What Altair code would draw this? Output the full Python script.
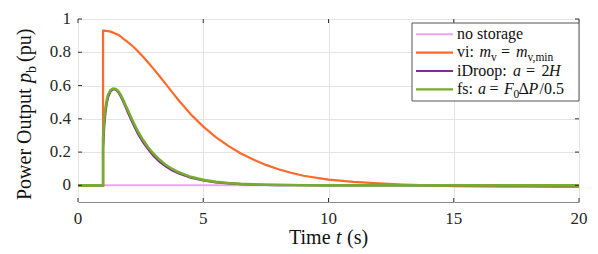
import altair as alt
import pandas as pd

# ---------------- data ----------------
time = [0, 1, 1, 1.05, 1.1, 1.15, 1.2, 1.3, 1.4, 1.5, 1.6, 1.7, 1.8, 1.9, 2.0,
        2.2, 2.4, 2.6, 2.8, 3.0, 3.25, 3.5, 3.75, 4.0, 4.5, 5.0, 5.5, 6.0, 6.5,
        7.0, 7.5, 8.0, 8.5, 9.0, 10, 11, 12, 13, 14, 15, 16, 17, 18, 19, 20]

no_storage = [0.0] * len(time)

vi = [0, 0, 0.930, 0.930, 0.929, 0.928, 0.927, 0.924, 0.918, 0.912, 0.905, 0.896,
      0.882, 0.871, 0.860, 0.835, 0.805, 0.773, 0.739, 0.703, 0.657, 0.610, 0.562,
      0.515, 0.428, 0.353, 0.290, 0.237, 0.192, 0.155, 0.123, 0.097, 0.076, 0.058,
      0.035, 0.021, 0.012, 0.005, 0.000, -0.004, -0.006, -0.008, -0.008, -0.009, -0.009]

idroop = [0, 0, 0.22, 0.36, 0.44, 0.495, 0.530, 0.565, 0.578, 0.576, 0.561, 0.536,
          0.505, 0.470, 0.435, 0.368, 0.308, 0.258, 0.216, 0.180, 0.143, 0.114, 0.091,
          0.073, 0.046, 0.029, 0.018, 0.012, 0.008, 0.005, 0.003, 0.002, 0.001, 0.001,
          0.0, 0.0, 0.0, 0.0, 0.0, 0.0, 0.0, 0.0, 0.0, 0.0, 0.0]

fs = [0, 0, 0.28, 0.40, 0.47, 0.515, 0.545, 0.572, 0.582, 0.580, 0.568, 0.545,
      0.515, 0.482, 0.448, 0.382, 0.322, 0.272, 0.229, 0.193, 0.155, 0.124, 0.100,
      0.080, 0.051, 0.033, 0.021, 0.014, 0.009, 0.006, 0.004, 0.003, 0.002, 0.001,
      0.0, 0.0, 0.0, 0.0, 0.0, 0.0, 0.0, 0.0, 0.0, 0.0, 0.0]

series_names = ["no storage", "vi", "iDroop", "fs"]
series_values = [no_storage, vi, idroop, fs]
series_colors = ["#F0A3F0", "#FF6A2B", "#7E2F8E", "#77AC30"]
series_widths = [2, 2.2, 2.2, 2.6]

x_ticks = [0, 5, 10, 15, 20]
x_tick_labels = ["0", "5", "10", "15", "20"]
y_ticks = [0, 0.2, 0.4, 0.6, 0.8, 1]
y_tick_labels = ["0", "0.2", "0.4", "0.6", "0.8", "1"]

# legend label pieces: (row, text, x offset, italic, subscript)
legend_pieces = [
    (0, "no storage", 0, False, False),
    (1, "vi:", 0, False, False), (1, "m", 22.5, True, False), (1, "v", 34, False, True),
    (1, "=", 44, False, False), (1, "m", 59, True, False), (1, "v,min", 70.5, False, True),
    (2, "iDroop:", 0, False, False), (2, "a", 56, True, False), (2, "=", 69, False, False),
    (2, "2", 84.5, False, False), (2, "H", 92, True, False),
    (3, "fs:", 0, False, False), (3, "a", 21, True, False), (3, "=", 32.5, False, False),
    (3, "F", 47, True, False), (3, "0", 56.5, False, True), (3, "Δ", 61.5, False, False),
    (3, "P", 71.5, True, False), (3, "/0.5", 82.5, False, False),
]

W, H = 501, 183
FONT = "Liberation Serif"
TXT = "#111111"

rows = []
for name, vals in zip(series_names, series_values):
    for i, (t, v) in enumerate(zip(time, vals)):
        rows.append({"series": name, "t": t, "p": v, "i": i})
df = pd.DataFrame(rows)

color_scale = alt.Scale(domain=series_names, range=series_colors)
x_axis = alt.Axis(values=x_ticks, title=None, grid=True, ticks=False, domain=False,
                  labels=False, gridColor="#e4e4e4")
y_axis = alt.Axis(values=y_ticks, title=None, grid=True, ticks=False, domain=False,
                  labels=False, gridColor="#e4e4e4")
x_scale = alt.Scale(domain=[0, 20], nice=False)
y_scale = alt.Scale(domain=[-0.1, 1], nice=False, zero=False)


def X(f):
    return alt.X(f, scale=x_scale, axis=x_axis)


def Y(f):
    return alt.Y(f, scale=y_scale, axis=y_axis)


layers = []
for name, w in zip(series_names, series_widths):
    layers.append(
        alt.Chart(df).transform_filter(alt.datum.series == name)
        .mark_line(strokeWidth=w, clip=True)
        .encode(x=X("t:Q"), y=Y("p:Q"), order="i:Q",
                color=alt.Color("series:N", scale=color_scale, legend=None))
    )

# inward tick marks (box on) and tick labels
xt = pd.DataFrame({"t": x_ticks, "lab": x_tick_labels})
yt = pd.DataFrame({"p": y_ticks, "lab": y_tick_labels})
tick_color = "#333333"
ticks = [
    alt.Chart(xt).mark_rule(color=tick_color).encode(x=X("t:Q"), y=alt.value(H), y2=alt.value(H - 4)),
    alt.Chart(xt).mark_rule(color=tick_color).encode(x=X("t:Q"), y=alt.value(0), y2=alt.value(4)),
    alt.Chart(yt).mark_rule(color=tick_color).encode(y=Y("p:Q"), x=alt.value(0), x2=alt.value(4)),
    alt.Chart(yt).mark_rule(color=tick_color).encode(y=Y("p:Q"), x=alt.value(W - 4), x2=alt.value(W)),
    alt.Chart(xt).mark_text(font=FONT, fontSize=17, color="#262626", align="center",
                            baseline="alphabetic").encode(
        x=X("t:Q"), y=alt.value(H + 22), text="lab:N"),
    alt.Chart(yt).mark_text(font=FONT, fontSize=17, color="#262626", align="right",
                            baseline="middle").encode(
        y=Y("p:Q"), x=alt.value(-7), text="lab:N"),
]

one = pd.DataFrame({"a": [0]})


def txt(s, x, y, size=20, italic=False, angle=0, align="left"):
    kw = dict(text=s, font=FONT, fontSize=size, color=TXT, align=align,
              baseline="alphabetic")
    if italic:
        kw["fontStyle"] = "italic"
    if angle:
        kw["angle"] = angle
    return alt.Chart(one).mark_text(**kw).encode(x=alt.value(x), y=alt.value(y))


titles = [
    txt("Time", 211, 225),
    txt("t", 258, 225, italic=True),
    txt("(s)", 269, 225),
    txt("Power Output", -47, 181, angle=270),
    txt("p", -47, 64, italic=True, angle=270),
    txt("b", -42, 54, size=14, angle=270),
    txt("(pu)", -47, 43, angle=270),
]

# ---------------- manual legend ----------------
LX0, LX1, LY0, LY1 = 334, 501, 4, 82
row_y = [15.2, 33.6, 52.0, 70.4]
box = alt.Chart(one).mark_rect(fill="white", stroke="#555555", strokeWidth=1).encode(
    x=alt.value(LX0), x2=alt.value(LX1), y=alt.value(LY0), y2=alt.value(LY1))
leg_lines = []
for k, (c, w) in enumerate(zip(series_colors, series_widths)):
    leg_lines.append(alt.Chart(one).mark_rule(color=c, strokeWidth=min(w, 2.2)).encode(
        x=alt.value(338), x2=alt.value(375), y=alt.value(row_y[k])))
leg_text = []
for r, s, dx, it, sub in legend_pieces:
    base = row_y[r] + 4.6
    if sub:
        leg_text.append(txt(s, 379 + dx, base + 3.5, size=11.5))
    else:
        leg_text.append(txt(s, 379 + dx, base, size=16, italic=it))

chart = alt.layer(*layers, *ticks, box, *leg_lines, *leg_text, *titles).properties(
    width=W, height=H,
    autosize=alt.AutoSizeParams(type="none"),
    padding={"left": 70, "top": 11, "right": 11, "bottom": 50},
).configure_view(stroke="#8a8a8a", strokeWidth=1)

chart.save("out.html", embed_options={"renderer": "svg", "actions": False})
